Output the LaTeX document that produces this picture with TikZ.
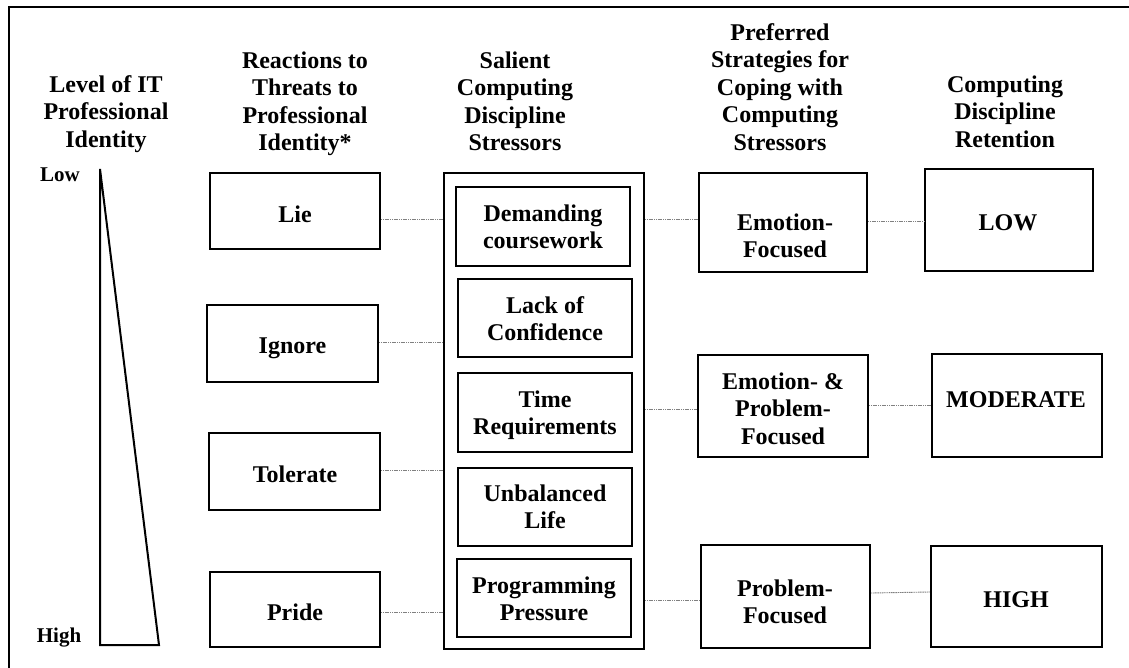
\documentclass[tikz,border=0pt]{standalone}
\usepackage{fontspec}
\setmainfont{Liberation Serif}
\newcommand\topline{\rule{0pt}{19.25pt}}
% box given by left, top, right, bottom (y grows downwards)
\newcommand\rectnode[5]{%
  \node[box, minimum width={(#4-#2)*1pt}, minimum height={(#5-#3)*1pt}]
    (#1) at ({(#2+#4)/2},{(#3+#5)/2}) {};}
\tikzset{
  box/.style={draw=black, line width=2pt, inner sep=0pt, fill=none},
  lbl/.style={font=\fontsize{24}{27.5}\selectfont\bfseries, align=center,
              inner sep=0pt, anchor=north, yshift=19.25pt},
  tag/.style={font=\fontsize{21}{24}\selectfont\bfseries, inner sep=0pt, anchor=base},
  link/.style={draw=black!50, line width=0.9pt, dash pattern=on 1.2pt off 0.6pt},
  frame/.style={draw=black, line width=2pt},
}
\begin{document}
\begin{tikzpicture}[x=1pt, y=-1pt]
\useasboundingbox (0,0) rectangle (1129,668);
\clip (0,0) rectangle (1129,668);
\fill[white] (0,0) rectangle (1129,668);
\draw[frame] (9,7) rectangle (1150,690);

% column headings
\node[lbl] (hlevel) at (106,92) {\topline Level of IT\\Professional\\Identity};
\node[lbl] (hreact) at (305,68) {\topline Reactions to\\Threats to\\Professional\\Identity*};
\node[lbl] (hsalient) at (515,68) {\topline Salient\\Computing\\Discipline\\Stressors};
\node[lbl] (hpref) at (780,40) {\topline Preferred\\Strategies for\\Coping with\\Computing\\Stressors};
\node[lbl] (hret) at (1005,92) {\topline Computing\\Discipline\\Retention};

% identity wedge
\draw[line width=2pt, line join=miter] (100,169) -- (159,645) -- (100,645) -- cycle;
\node[tag] (low) at (60,182) {Low};
\node[tag] (high) at (59,642) {High};

% reactions
\rectnode{lie}{210}{173}{380}{249}
\rectnode{ignore}{207}{305}{378}{382}
\rectnode{tolerate}{209}{433}{380}{510}
\rectnode{pride}{210}{572}{380}{647}
\node[lbl] (lie-t) at (295,222) {\topline Lie};
\node[lbl] (ignore-t) at (292.5,353) {\topline Ignore};
\node[lbl] (tolerate-t) at (295,482) {\topline Tolerate};
\node[lbl] (pride-t) at (295,620) {\topline Pride};

% stressors
\rectnode{outer}{444}{173}{644}{649}
\rectnode{demanding}{456}{187}{630}{266}
\rectnode{lack}{458}{279}{632}{357}
\rectnode{time}{458}{373}{632}{452}
\rectnode{unbalanced}{458}{468}{632}{546}
\rectnode{programming}{457}{559}{631}{637}
\node[lbl] (demanding-t) at (543,221) {\topline Demanding\\coursework};
\node[lbl] (lack-t) at (545,313) {\topline Lack of\\Confidence};
\node[lbl] (time-t) at (545,407) {\topline Time\\Requirements};
\node[lbl] (unbalanced-t) at (545,501) {\topline Unbalanced\\Life};
\node[lbl] (programming-t) at (544,593) {\topline Programming\\Pressure};

% coping strategies
\rectnode{emof}{699}{173}{867}{272}
\rectnode{emopf}{698}{355}{868}{457}
\rectnode{probf}{701}{545}{870}{648}
\node[lbl] (emof-t) at (785,230) {\topline Emotion-\\Focused};
\node[lbl] (emopf-t) at (783,389) {\topline Emotion- \&\\Problem-\\Focused};
\node[lbl] (probf-t) at (785,596) {\topline Problem-\\Focused};

% retention
\rectnode{low}{925}{169}{1093}{271}
\rectnode{moderate}{932}{354}{1102}{457}
\rectnode{high}{931}{546}{1102}{647}
\node[lbl] (low-t) at (1008,230) {\topline LOW};
\node[lbl] (moderate-t) at (1016,407) {\topline MODERATE};
\node[lbl] (high-t) at (1016,607) {\topline HIGH};

% connectors
\draw[link] (lie.east |- 0,219) -- (outer.west |- 0,219);
\draw[link] (ignore.east |- 0,342) -- (outer.west |- 0,342);
\draw[link] (tolerate.east |- 0,470) -- (outer.west |- 0,470);
\draw[link] (pride.east |- 0,612) -- (outer.west |- 0,612);
\draw[link] (outer.east |- 0,219) -- (emof.west |- 0,219);
\draw[link] (emof.east |- 0,221) -- (low.west |- 0,221);
\draw[link] (outer.east |- 0,409) -- (emopf.west |- 0,409);
\draw[link] (emopf.east |- 0,405) -- (moderate.west |- 0,405);
\draw[link] (outer.east |- 0,600) -- (probf.west |- 0,600);
\draw[link] (probf.east |- 0,593) -- (high.west |- 0,592);
\end{tikzpicture}
\end{document}
